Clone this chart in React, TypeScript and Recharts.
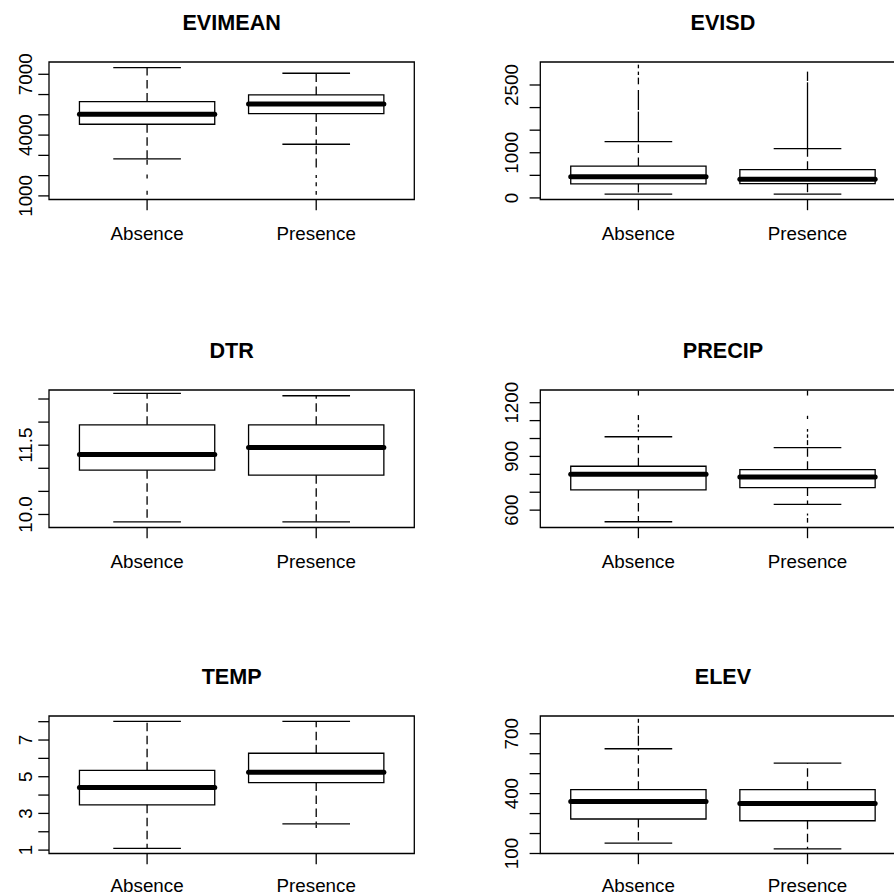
import React from 'react';
import { ComposedChart, XAxis, YAxis, ReferenceArea, ReferenceLine } from 'recharts';

// ---------- data ----------
const categories = ['Absence', 'Presence'];

// five-number summaries per group: [lowerWhisker, lowerHinge, median, upperHinge, upperWhisker]
const evimeanStats = [
  [2824, 4534, 5027, 5653, 7330],
  [3548, 5061, 5535, 5980, 7050],
];
// outlier marks as value ranges [low, high] per group
const evimeanOutliers = [
  [[2540, 2780], [1860, 2050], [1060, 1250]],
  [[3050, 3480], [2400, 2850], [1880, 2030], [1470, 1670], [1060, 1240]],
];
const evimeanTicks = [1000, 2000, 3000, 4000, 5000, 6000, 7000];
const evimeanTickLabels = ['1000', '', '', '4000', '', '', '7000'];
const evimeanRange = [822, 7606];

const evisdStats = [
  [82, 310, 468, 705, 1248],
  [82, 315, 415, 625, 1090],
];
const evisdOutliers = [
  [[1260, 1910], [1947, 2389], [2515, 2663], [2721, 2796], [2870, 2950]],
  [[1100, 2560], [2590, 2796]],
];
const evisdTicks = [0, 500, 1000, 1500, 2000, 2500];
const evisdTickLabels = ['0', '', '1000', '', '', '2500'];
const evisdRange = [-35, 3009];

const dtrStats = [
  [9.84, 10.96, 11.3, 11.94, 12.62],
  [9.84, 10.85, 11.45, 11.94, 12.57],
];
const dtrOutliers = [[], []];
const dtrTicks = [10.0, 10.5, 11.0, 11.5, 12.0, 12.5];
const dtrTickLabels = ['10.0', '', '', '11.5', '', ''];
const dtrRange = [9.718, 12.695];

const precipStats = [
  [535, 713, 801, 845, 1010],
  [632, 726, 785, 826, 949],
];
const precipOutliers = [
  [[1038, 1050], [1062, 1079], [1103, 1131], [1240, 1268]],
  [[963, 991], [1004, 1023], [1038, 1053], [1109, 1127], [1240, 1268], [570, 581], [530, 556]],
];
const precipTicks = [600, 700, 800, 900, 1000, 1100, 1200];
const precipTickLabels = ['600', '', '', '900', '', '', '1200'];
const precipRange = [503, 1271];

const tempStats = [
  [1.09, 3.47, 4.41, 5.35, 8.02],
  [2.43, 4.68, 5.25, 6.28, 8.02],
];
const tempOutliers = [[], [[2.2, 2.4]]];
const tempTicks = [1, 2, 3, 4, 5, 6, 7, 8];
const tempTickLabels = ['1', '', '3', '', '5', '', '7', ''];
const tempRange = [0.815, 8.31];

const elevStats = [
  [152, 273, 360, 420, 625],
  [123, 264, 351, 420, 553],
];
const elevOutliers = [
  [[640, 690], [700, 740], [755, 775]],
  [],
];
const elevTicks = [100, 200, 300, 400, 500, 600, 700];
const elevTickLabels = ['100', '', '', '400', '', '', '700'];
const elevRange = [100, 789];

const titles = ['EVIMEAN', 'EVISD', 'DTR', 'PRECIP', 'TEMP', 'ELEV'];

// ---------- layout / style ----------
const FONT = '"Liberation Sans", Arial, Helvetica, sans-serif';
const FS = 18.8;
const TITLE_FS = 21.6;
const LW = 1.3;
const BOX_H = 137.5;
const ROW_TOPS = [61.7, 390, 716.2];
const ROW_LABEL_DY = [29.3, 29.3, 27.3];
const COLS = [
  { L: 0, W: 447, plotLeft: 49, plotRight: 414.3, labOff: 24 },
  { L: 447, W: 480, plotLeft: 93.3, plotRight: 458.6, labOff: 29 },
];
const YW = 45;
const XH = 50;
const H = 260;
const TOPM = 62;

const panels = [
  { title: titles[0], stats: evimeanStats, outliers: evimeanOutliers, ticks: evimeanTicks, labels: evimeanTickLabels, range: evimeanRange },
  { title: titles[1], stats: evisdStats, outliers: evisdOutliers, ticks: evisdTicks, labels: evisdTickLabels, range: evisdRange },
  { title: titles[2], stats: dtrStats, outliers: dtrOutliers, ticks: dtrTicks, labels: dtrTickLabels, range: dtrRange },
  { title: titles[3], stats: precipStats, outliers: precipOutliers, ticks: precipTicks, labels: precipTickLabels, range: precipRange },
  { title: titles[4], stats: tempStats, outliers: tempOutliers, ticks: tempTicks, labels: tempTickLabels, range: tempRange },
  { title: titles[5], stats: elevStats, outliers: elevOutliers, ticks: elevTicks, labels: elevTickLabels, range: elevRange },
];

const makeXTick = (dy: number) => (props: any) => {
  const { x, y, payload } = props;
  const name = categories[Math.round(payload.value) - 1] ?? '';
  return (
    <text x={x} y={y + dy} textAnchor="middle" fontSize={FS} fontFamily={FONT} fill="#000">
      {name}
    </text>
  );
};

const makeYTick = (ticks: number[], labels: string[], labOff: number) => (props: any) => {
  const { x, y, payload } = props;
  const idx = ticks.findIndex((t) => Math.abs(t - payload.value) < 1e-9);
  const label = idx >= 0 ? labels[idx] : '';
  if (!label) return <g />;
  const cx = x + 10.7 - labOff;
  const bx = cx + 0.36 * FS;
  return (
    <text
      x={bx}
      y={y}
      transform={`rotate(-90 ${bx} ${y})`}
      textAnchor="middle"
      fontSize={FS}
      fontFamily={FONT}
      fill="#000"
    >
      {label}
    </text>
  );
};

function Panel({ p, col, row }: any) {
  const c = COLS[col];
  const boxTop = ROW_TOPS[row];
  const T = boxTop - TOPM;
  const bottomMargin = H - TOPM - BOX_H - XH;
  const YTick = makeYTick(p.ticks, p.labels, c.labOff);
  const XTick = makeXTick(ROW_LABEL_DY[row]);
  const [d0, d1] = p.range;
  const items: any[] = [];
  p.stats.forEach((s: number[], i: number) => {
    const x = i + 1;
    const k = `${p.title}-${i}`;
    items.push(
      <ReferenceLine key={k + 'wl'} segment={[{ x, y: s[1] }, { x, y: s[0] }]} stroke="#000" strokeWidth={LW} strokeDasharray="8.5 4.5" ifOverflow="visible" />,
      <ReferenceLine key={k + 'wu'} segment={[{ x, y: s[3] }, { x, y: s[4] }]} stroke="#000" strokeWidth={LW} strokeDasharray="8.5 4.5" ifOverflow="visible" />,
      <ReferenceLine key={k + 'cl'} segment={[{ x: x - 0.2, y: s[0] }, { x: x + 0.2, y: s[0] }]} stroke="#000" strokeWidth={LW} ifOverflow="visible" />,
      <ReferenceLine key={k + 'cu'} segment={[{ x: x - 0.2, y: s[4] }, { x: x + 0.2, y: s[4] }]} stroke="#000" strokeWidth={LW} ifOverflow="visible" />,
      <ReferenceArea key={k + 'box'} x1={x - 0.4} x2={x + 0.4} y1={s[1]} y2={s[3]} fill="#fff" fillOpacity={1} stroke="#000" strokeWidth={LW} ifOverflow="visible" />,
      <ReferenceLine key={k + 'med'} segment={[{ x: x - 0.4, y: s[2] }, { x: x + 0.4, y: s[2] }]} stroke="#000" strokeWidth={5} strokeLinecap="round" ifOverflow="visible" />
    );
    (p.outliers[i] || []).forEach((o: number[], j: number) => {
      items.push(
        <ReferenceLine key={k + 'o' + j} segment={[{ x, y: o[0] }, { x, y: o[1] }]} stroke="#000" strokeWidth={LW} ifOverflow="visible" />
      );
    });
  });
  return (
    <div style={{ position: 'absolute', left: c.L, top: T, width: c.W, height: H }}>
      <ComposedChart
        width={c.W}
        height={H}
        margin={{ top: TOPM, right: c.W - c.plotRight, bottom: bottomMargin, left: c.plotLeft - YW }}
      >
        <XAxis
          type="number"
          dataKey="x"
          domain={[0.42, 2.58]}
          ticks={[1, 2]}
          allowDataOverflow
          axisLine={false}
          tickLine={{ stroke: '#000', strokeWidth: LW }}
          tickSize={10.7}
          tickMargin={0}
          height={XH}
          interval={0}
          tick={<XTick />}
        />
        <YAxis
          type="number"
          domain={[d0, d1]}
          ticks={p.ticks}
          allowDataOverflow
          axisLine={false}
          tickLine={{ stroke: '#000', strokeWidth: LW }}
          tickSize={10.7}
          tickMargin={0}
          width={YW}
          interval={0}
          tick={<YTick />}
        />
        <ReferenceArea x1={0.42} x2={2.58} y1={d0} y2={d1} fill="none" stroke="#000" strokeWidth={LW} ifOverflow="visible" />
        {items}
      </ComposedChart>
    </div>
  );
}

export default function App() {
  return (
    <div style={{ position: 'absolute', left: 0, top: 0, width: 894, height: 896, overflow: 'hidden', background: '#fff' }}>
      {panels.map((p, i) => (
        <Panel key={p.title} p={p} col={i % 2} row={Math.floor(i / 2)} />
      ))}
      <svg width={894} height={896} style={{ position: 'absolute', left: 0, top: 0, pointerEvents: 'none' }}>
        {panels.map((p, i) => {
          const c = COLS[i % 2];
          const cx = c.L + (c.plotLeft + c.plotRight) / 2;
          const y = ROW_TOPS[Math.floor(i / 2)] - 32;
          return (
            <text key={p.title} x={cx} y={y} textAnchor="middle" fontSize={TITLE_FS} fontWeight="bold" fontFamily={FONT} fill="#000">
              {p.title}
            </text>
          );
        })}
      </svg>
    </div>
  );
}
